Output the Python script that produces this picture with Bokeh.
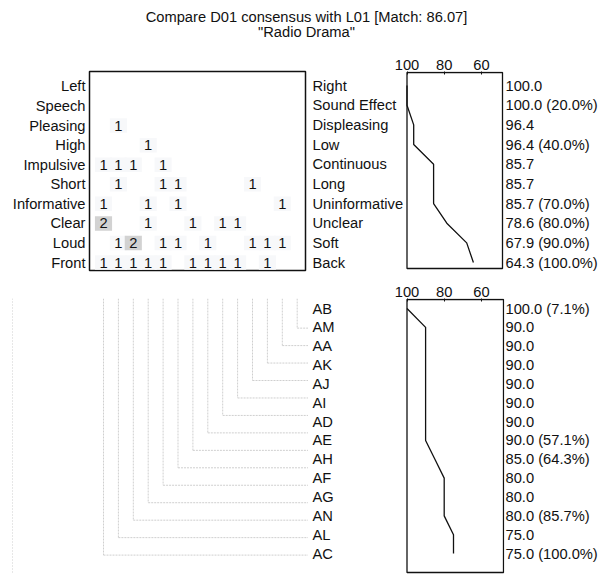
from bokeh.plotting import figure
from bokeh.models import Range1d, FixedTicker, LinearAxis, ColumnDataSource
from bokeh.layouts import column, row
from bokeh.embed import file_html
from bokeh.resources import INLINE
from bokeh.core.properties import value

# ---------------- data ----------------
title_text = "Compare D01 consensus with L01 [Match: 86.07]"
subtitle_text = '"Radio Drama"'

left_poles = ["Left", "Speech", "Pleasing", "High", "Impulsive", "Short",
              "Informative", "Clear", "Loud", "Front"]
right_poles = ["Right", "Sound Effect", "Displeasing", "Low", "Continuous", "Long",
               "Uninformative", "Unclear", "Soft", "Back"]
construct_match = [100.0, 100.0, 96.4, 96.4, 85.7, 85.7, 85.7, 78.6, 67.9, 64.3]
construct_cum = [None, 20.0, None, 40.0, None, None, 70.0, 80.0, 90.0, 100.0]

elements = ["AB", "AM", "AA", "AK", "AJ", "AI", "AD", "AE", "AH", "AF", "AG",
            "AN", "AL", "AC"]
element_match = [100.0, 90.0, 90.0, 90.0, 90.0, 90.0, 90.0, 90.0, 85.0, 80.0,
                 80.0, 80.0, 75.0, 75.0]
element_cum = [7.1, None, None, None, None, None, None, 57.1, 64.3, None, None,
               85.7, None, 100.0]
# grid column of each element (tree below the grid)
element_column = [14, 13, 12, 11, 10, 9, 8, 7, 6, 5, 4, 3, 2, 1]

# difference counts: rows = constructs, columns = 14 elements
grid_counts = [
    [0, 0, 0, 0, 0, 0, 0, 0, 0, 0, 0, 0, 0, 0],
    [0, 0, 0, 0, 0, 0, 0, 0, 0, 0, 0, 0, 0, 0],
    [0, 1, 0, 0, 0, 0, 0, 0, 0, 0, 0, 0, 0, 0],
    [0, 0, 0, 1, 0, 0, 0, 0, 0, 0, 0, 0, 0, 0],
    [1, 1, 1, 0, 1, 0, 0, 0, 0, 0, 0, 0, 0, 0],
    [0, 1, 0, 0, 1, 1, 0, 0, 0, 0, 1, 0, 0, 0],
    [1, 0, 0, 1, 0, 1, 0, 0, 0, 0, 0, 0, 1, 0],
    [2, 0, 0, 1, 0, 0, 1, 0, 1, 1, 0, 0, 0, 0],
    [0, 1, 2, 0, 1, 1, 0, 1, 0, 0, 1, 1, 1, 0],
    [1, 1, 1, 1, 1, 0, 1, 1, 1, 1, 0, 1, 0, 0],
]
match_ticks = [100, 80, 60]

# ---------------- style / layout ----------------
FONT = "Liberation Sans"
FS = "14.7px"
BLACK = "#111111"
TREE = "#cfcfcf"

COL1_PX, COL_STEP = 103.0, 14.9
ROW1_PX, ROW_STEP = 85.0, 19.67
EROW1_PX, EROW_STEP = 308.0, 18.85
X100_PX, PPU = 406.5, 1.86


def col_at(px):
    return 1 + (px - COL1_PX) / COL_STEP


def row_at(px):
    return 1 + (px - ROW1_PX) / ROW_STEP


def erow_at(px):
    return 1 + (px - EROW1_PX) / EROW_STEP


def m_at(px):
    return 100 + (X100_PX - px) / PPU


def fmt(v, c):
    s = f"{v:.1f}"
    if c is not None:
        s += f" ({c:.1f}%)"
    return s


def base_fig(**kw):
    p = figure(toolbar_location=None, tools="", output_backend="svg", **kw)
    p.grid.visible = False
    p.background_fill_color = "white"
    p.border_fill_color = "white"
    return p


def style_axis(ax):
    ax.major_label_text_font = FONT
    ax.major_label_text_font_size = FS
    ax.major_label_text_color = BLACK
    ax.minor_tick_out = 0
    ax.minor_tick_in = 0


# ---------------- title ----------------
tfig = base_fig(width=606, height=46, x_range=Range1d(0, 606), y_range=Range1d(46, 0),
                x_axis_location=None, y_axis_location=None,
                min_border_left=0, min_border_right=0, min_border_top=0, min_border_bottom=0)
tfig.outline_line_color = None
tfig.text(x=[306, 306], y=[16, 31], text=[title_text, subtitle_text],
          text_align="center", text_baseline="middle",
          text_font=value(FONT), text_font_size=FS, text_color=BLACK)

# ---------------- grid (top left) ----------------
rows = list(range(1, len(left_poles) + 1))
a1 = base_fig(width=308, height=230,
              x_range=Range1d(col_at(89), col_at(305)),
              y_range=Range1d(row_at(270), row_at(70)),
              x_axis_location=None, y_axis_location="left",
              min_border_left=89, min_border_right=3, min_border_top=24, min_border_bottom=6)
a1.outline_line_color = BLACK
a1.outline_line_width = 1.5
ya = a1.yaxis[0]
ya.ticker = FixedTicker(ticks=rows)
ya.major_label_overrides = {r: lab for r, lab in zip(rows, left_poles)}
ya.axis_line_color = None
ya.major_tick_in = 0
ya.major_tick_out = 0
ya.major_label_standoff = 4
style_axis(ya)

cx, cy, ct, cc = [], [], [], []
for ri, counts in enumerate(grid_counts):
    for ci, n in enumerate(counts):
        if n > 0:
            cx.append(ci + 1)
            cy.append(ri + 1)
            ct.append(str(n))
            cc.append("#d2d2d2" if n >= 2 else "#f7f8fa")
src = ColumnDataSource(dict(x=cx, y=cy, t=ct, c=cc))
a1.rect(x="x", y="y", width=1.15, height=0.74, fill_color="c", line_color=None, source=src)
a1.text(x="x", y="y", text="t", text_align="center", text_baseline="middle",
        text_font=value(FONT), text_font_size=FS, text_color=BLACK, source=src)

# ---------------- construct match panel (top right) ----------------
b1 = base_fig(width=298, height=230,
              x_range=Range1d(m_at(308), m_at(504)),
              y_range=Range1d(row_at(270), row_at(71)),
              x_axis_location="above", y_axis_location=None,
              min_border_left=0, min_border_right=102, min_border_top=25, min_border_bottom=6)
b1.outline_line_color = None
xa = b1.xaxis[0]
xa.ticker = FixedTicker(ticks=match_ticks)
xa.axis_line_color = None
xa.major_tick_in = 3
xa.major_tick_out = 0
xa.major_tick_line_color = BLACK
xa.major_label_standoff = 2
style_axis(xa)

b1.quad(left=[100], right=[m_at(502)], top=[row_at(72)], bottom=[row_at(268)],
        fill_color=None, line_color=BLACK, line_width=1.3)
b1.line(x=construct_match, y=rows, line_color=BLACK, line_width=1.3)
b1.text(x=[m_at(312)] * len(rows), y=rows, text=right_poles,
        text_align="left", text_baseline="middle",
        text_font=value(FONT), text_font_size=FS, text_color=BLACK)
ra = LinearAxis(ticker=FixedTicker(ticks=rows),
                major_label_overrides={r: fmt(v, c) for r, v, c in
                                       zip(rows, construct_match, construct_cum)})
ra.axis_line_color = None
ra.major_tick_in = 0
ra.major_tick_out = 0
ra.major_label_standoff = 1
style_axis(ra)
b1.add_layout(ra, "right")

# ---------------- element tree (bottom left) ----------------
erows = list(range(1, len(elements) + 1))
a2 = base_fig(width=308, height=298,
              x_range=Range1d(col_at(0), col_at(308)),
              y_range=Range1d(erow_at(574), erow_at(276)),
              x_axis_location=None, y_axis_location=None,
              min_border_left=0, min_border_right=0, min_border_top=0, min_border_bottom=0)
a2.outline_line_color = None
top_val = erow_at(276)
right_val = col_at(308)
a2.segment(x0=element_column, y0=[top_val] * len(erows), x1=element_column, y1=erows,
           line_color=TREE, line_width=1, line_dash="2 1")
a2.segment(x0=element_column, y0=erows, x1=[right_val] * len(erows), y1=erows,
           line_color=TREE, line_width=1, line_dash="2 1")
# faint dotted page-edge rule of the scan
a2.segment(x0=[col_at(12)], y0=[top_val], x1=[col_at(12)], y1=[erow_at(574)],
           line_color=TREE, line_width=1, line_dash="1 2")

# ---------------- element match panel (bottom right) ----------------
b2 = base_fig(width=298, height=298,
              x_range=Range1d(m_at(308), m_at(504)),
              y_range=Range1d(erow_at(574), erow_at(298)),
              x_axis_location="above", y_axis_location=None,
              min_border_left=0, min_border_right=102, min_border_top=22, min_border_bottom=0)
b2.outline_line_color = None
xb = b2.xaxis[0]
xb.ticker = FixedTicker(ticks=match_ticks)
xb.axis_line_color = None
xb.major_tick_in = 3
xb.major_tick_out = 0
xb.major_tick_line_color = BLACK
xb.major_label_standoff = 2
style_axis(xb)

b2.quad(left=[100], right=[m_at(503)], top=[erow_at(299)], bottom=[erow_at(572)],
        fill_color=None, line_color=BLACK, line_width=1.3)
b2.line(x=element_match, y=erows, line_color=BLACK, line_width=1.3)
b2.text(x=[m_at(312)] * len(erows), y=erows, text=elements,
        text_align="left", text_baseline="middle",
        text_font=value(FONT), text_font_size=FS, text_color=BLACK)
rb = LinearAxis(ticker=FixedTicker(ticks=erows),
                major_label_overrides={r: fmt(v, c) for r, v, c in
                                       zip(erows, element_match, element_cum)})
rb.axis_line_color = None
rb.major_tick_in = 0
rb.major_tick_out = 0
rb.major_label_standoff = 1
style_axis(rb)
b2.add_layout(rb, "right")

layout = column(tfig, row(a1, b1), row(a2, b2))
open("out.html", "w").write(file_html(layout, INLINE))
